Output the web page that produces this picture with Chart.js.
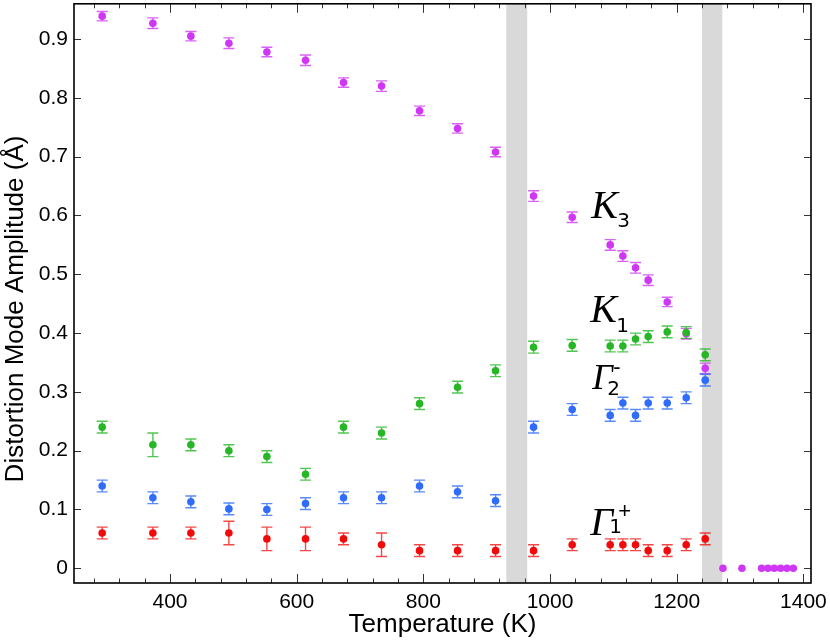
<!DOCTYPE html>
<html>
<head>
<meta charset="utf-8">
<script src="https://cdn.jsdelivr.net/npm/chart.js@4.4.1/dist/chart.umd.min.js"></script>
<style>
  html, body { margin: 0; padding: 0; background: #fff; }
</style>
</head>
<body>
<canvas id="modes" width="830" height="644"></canvas>
<script>
// temperatures (K) of the refinements
const temps = [293, 373, 433, 493, 553, 614, 674, 734, 794, 854, 914, 974, 1035, 1095, 1115, 1135, 1155, 1185, 1215, 1245];
// above the last transition only K3 is left, at zero
const tempsHigh = [1273, 1303, 1334, 1344, 1354, 1364, 1374, 1384];

const k3 = [0.939, 0.927, 0.905, 0.893, 0.878, 0.864, 0.826, 0.820, 0.778, 0.748, 0.708, 0.633, 0.597, 0.550, 0.531, 0.511, 0.490, 0.453, 0.399, 0.340];
const k3Err = [0.008, 0.009, 0.008, 0.009, 0.008, 0.009, 0.008, 0.009, 0.008, 0.008, 0.008, 0.009, 0.009, 0.009, 0.009, 0.009, 0.009, 0.008, 0.009, 0.009];
const k3High = [0, 0, 0, 0, 0, 0, 0, 0];

const k1 = [0.240, 0.210, 0.210, 0.200, 0.190, 0.160, 0.240, 0.230, 0.280, 0.308, 0.336, 0.376, 0.379, 0.378, 0.378, 0.390, 0.394, 0.402, 0.401, 0.363];
const k1Err = [0.01, 0.02, 0.01, 0.01, 0.01, 0.01, 0.01, 0.01, 0.01, 0.01, 0.01, 0.01, 0.01, 0.01, 0.01, 0.01, 0.01, 0.01, 0.01, 0.01];

const g2 = [0.140, 0.120, 0.113, 0.101, 0.100, 0.110, 0.120, 0.120, 0.140, 0.130, 0.115, 0.240, 0.270, 0.260, 0.281, 0.260, 0.281, 0.281, 0.290, 0.320];
const g2Err = [0.01, 0.01, 0.01, 0.01, 0.01, 0.01, 0.01, 0.01, 0.01, 0.01, 0.01, 0.01, 0.01, 0.01, 0.01, 0.01, 0.01, 0.01, 0.01, 0.01];

const g1 = [0.060, 0.060, 0.060, 0.060, 0.050, 0.050, 0.050, 0.040, 0.030, 0.030, 0.030, 0.030, 0.040, 0.040, 0.040, 0.040, 0.030, 0.030, 0.040, 0.050];
const g1Err = [0.01, 0.01, 0.01, 0.02, 0.02, 0.02, 0.01, 0.02, 0.01, 0.01, 0.01, 0.01, 0.01, 0.01, 0.01, 0.01, 0.01, 0.01, 0.01, 0.01];

// transition regions (K)
const bands = [[931, 964], [1240, 1272]];

const xTicks = [400, 600, 800, 1000, 1200, 1400];
const xMinor = [280, 320, 360, 440, 480, 520, 560, 640, 680, 720, 760, 840, 880, 920, 960,
                1040, 1080, 1120, 1160, 1240, 1280, 1320, 1360];
const yTicks = [0, 0.1, 0.2, 0.3, 0.4, 0.5, 0.6, 0.7, 0.8, 0.9];

const SANS = "'Liberation Sans', Arial, Helvetica, sans-serif";

function pts(xs, ys) {
  return xs.map((t, i) => ({x: t, y: ys[i]}));
}

const decor = {
  id: 'decor',
  beforeDatasetsDraw(chart) {
    const {ctx, chartArea: a, scales: {x, y}} = chart;
    ctx.save();
    ctx.fillStyle = '#d9d9d9';
    bands.forEach(([t0, t1]) => {
      const x0 = x.getPixelForValue(t0), x1 = x.getPixelForValue(t1);
      ctx.fillRect(x0, a.top, x1 - x0, a.bottom - a.top);
    });
    // error bars with caps
    chart.data.datasets.forEach(ds => {
      if (!ds.err) return;
      ctx.strokeStyle = ds.barColor;
      ctx.lineWidth = 1.4;
      ds.data.forEach((p, i) => {
        const e = ds.err[i];
        if (!e) return;
        const px = x.getPixelForValue(p.x);
        const lo = y.getPixelForValue(p.y - e), hi = y.getPixelForValue(p.y + e);
        ctx.beginPath();
        ctx.moveTo(px, lo); ctx.lineTo(px, hi);
        ctx.moveTo(px - 5.5, lo); ctx.lineTo(px + 5.5, lo);
        ctx.moveTo(px - 5.5, hi); ctx.lineTo(px + 5.5, hi);
        ctx.stroke();
      });
    });
    ctx.restore();
  },
  afterDraw(chart) {
    const {ctx, chartArea: a, scales: {x, y}} = chart;
    ctx.save();
    // inward ticks on all four sides
    ctx.strokeStyle = '#333';
    ctx.lineWidth = 1;
    ctx.beginPath();
    xTicks.forEach(t => {
      const px = Math.round(x.getPixelForValue(t)) + 0.5;
      ctx.moveTo(px, a.bottom); ctx.lineTo(px, a.bottom - 9);
      ctx.moveTo(px, a.top); ctx.lineTo(px, a.top + 9);
    });
    xMinor.forEach(t => {
      const px = Math.round(x.getPixelForValue(t)) + 0.5;
      ctx.moveTo(px, a.bottom); ctx.lineTo(px, a.bottom - 4.5);
      ctx.moveTo(px, a.top); ctx.lineTo(px, a.top + 4.5);
    });
    yTicks.forEach(v => {
      const py = Math.round(y.getPixelForValue(v)) + 0.5;
      ctx.moveTo(a.left, py); ctx.lineTo(a.left + 7, py);
      ctx.moveTo(a.right, py); ctx.lineTo(a.right - 7, py);
    });
    ctx.stroke();
    // frame
    ctx.strokeStyle = '#000';
    ctx.lineWidth = 1.6;
    ctx.strokeRect(a.left, a.top, a.right - a.left, a.bottom - a.top);

    // axis titles
    ctx.fillStyle = '#000';
    ctx.font = '26px ' + SANS;
    ctx.textAlign = 'center';
    ctx.textBaseline = 'alphabetic';
    ctx.fillText('Temperature (K)', (a.left + a.right) / 2, 632);
    ctx.save();
    ctx.translate(23, 309);
    ctx.rotate(-Math.PI / 2);
    ctx.fillText('Distortion Mode Amplitude (\u00C5)', 0, 0);
    ctx.restore();

    // mode labels
    ctx.textAlign = 'left';
    const label = (main, mainSize, sub, sup, bx, by, subDx, subDy, supDx, supDy) => {
      ctx.font = 'italic ' + mainSize + "px 'Liberation Serif', 'Times New Roman', serif";
      ctx.fillText(main, bx, by);
      ctx.font = "20px 'DejaVu Sans', sans-serif";
      ctx.fillText(sub, bx + subDx, by + subDy);
      if (sup) {
        ctx.font = '22px ' + SANS;
        ctx.fillText(sup, bx + supDx, by + supDy);
      }
    };
    const lx = x.getPixelForValue(1065);
    label('K', 40, '3', null, lx, y.getPixelForValue(0.596), 26, 9.5);
    label('K', 40, '1', null, lx - 1, y.getPixelForValue(0.4197), 26, 10);
    label('\u0393', 36, '2', '-', lx + 1, y.getPixelForValue(0.3046), 15, 6, 21, -15);
    label('\u0393', 40, '1', '+', lx - 1, y.getPixelForValue(0.0565), 19, -2, 28, -17);
    ctx.restore();
  }
};

new Chart(document.getElementById('modes'), {
  type: 'scatter',
  data: {
    datasets: [
      {
        label: 'K3',
        data: pts(temps, k3).concat(pts(tempsHigh, k3High)),
        err: k3Err,
        backgroundColor: 'rgb(208, 55, 245)',
        barColor: 'rgba(208, 55, 245, 0.8)',
        order: 4,
      },
      {
        label: 'K1',
        data: pts(temps, k1),
        err: k1Err,
        backgroundColor: 'rgb(38, 182, 38)',
        barColor: 'rgba(38, 182, 38, 0.8)',
        order: 3,
      },
      {
        label: 'Gamma2-',
        data: pts(temps, g2),
        err: g2Err,
        backgroundColor: 'rgb(48, 108, 250)',
        barColor: 'rgba(48, 108, 250, 0.8)',
        order: 2,
      },
      {
        label: 'Gamma1+',
        data: pts(temps, g1),
        err: g1Err,
        backgroundColor: 'rgb(240, 10, 10)',
        barColor: 'rgba(240, 10, 10, 0.75)',
        order: 1,
      },
    ]
  },
  options: {
    responsive: false,
    animation: false,
    layout: {padding: {top: 2, right: 19, left: 0, bottom: 0}},
    elements: {point: {radius: 3.8, borderWidth: 0, hoverRadius: 3.8}},
    plugins: {
      legend: {display: false},
      tooltip: {enabled: false},
    },
    scales: {
      x: {
        type: 'linear',
        min: 248.5,
        max: 1412,
        afterFit: s => { s.height = 61; s.paddingLeft = 0; s.paddingRight = 0; },
        afterBuildTicks: s => { s.ticks = xTicks.map(v => ({value: v})); },
        grid: {display: false, drawTicks: false},
        border: {display: false},
        ticks: {
          padding: 7,
          color: '#000',
          autoSkip: false,
          maxRotation: 0,
          font: {family: SANS, size: 21},
          callback: v => String(v),
        },
      },
      y: {
        type: 'linear',
        min: -0.025,
        max: 0.96,
        afterFit: s => { s.width = 74; s.paddingTop = 0; s.paddingBottom = 0; },
        afterBuildTicks: s => { s.ticks = yTicks.map(v => ({value: v})); },
        grid: {display: false, drawTicks: false},
        border: {display: false},
        ticks: {
          padding: 6,
          color: '#000',
          autoSkip: false,
          font: {family: SANS, size: 21},
          callback: v => (v === 0 ? '0' : v.toFixed(1)),
        },
      },
    },
  },
  plugins: [decor],
});
</script>
</body>
</html>
